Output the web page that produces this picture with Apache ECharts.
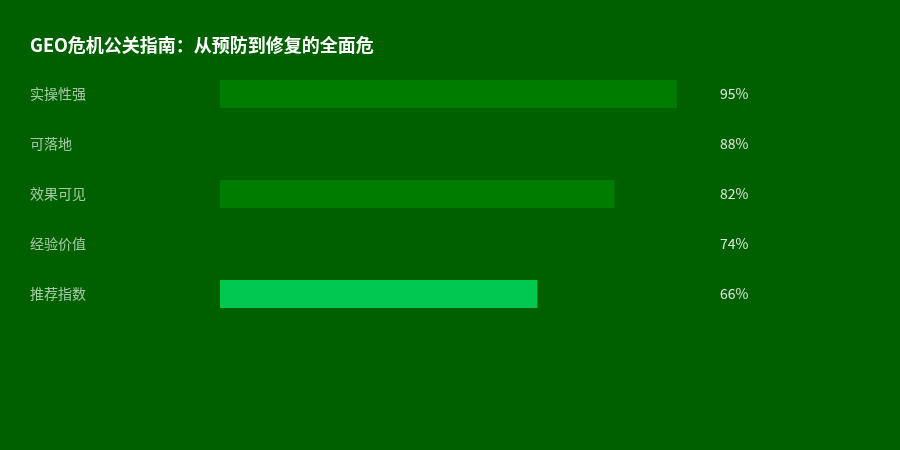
<!DOCTYPE html>
<html>
<head>
<meta charset="utf-8">
<script src="https://cdn.jsdelivr.net/npm/echarts@6/dist/echarts.min.js"></script>
<style>
  html, body { margin: 0; padding: 0; background: #006000; }
  #main { width: 900px; height: 450px; }
</style>
</head>
<body>
<div id="main"></div>
<script>
// 数据
var titleText = 'GEO危机公关指南：从预防到修复的全面危';
var cateList = ['实操性强', '可落地', '效果可见', '经验价值', '推荐指数'];
var valueList = [95, 88, 82, 74, 66];
var barColors = ['#007c00', '#006000', '#007c00', '#006000', '#00c850'];

var chart = echarts.init(document.getElementById('main'));

var option = {
  backgroundColor: '#006000',
  title: {
    text: titleText,
    left: 25,
    top: 31,
    textStyle: {
      color: '#ffffff',
      fontSize: 18,
      fontWeight: 'bold',
      fontFamily: 'Noto Sans CJK SC'
    }
  },
  grid: {
    left: 220,
    top: 69,
    width: 481,
    height: 250
  },
  xAxis: {
    type: 'value',
    min: 0,
    max: 100,
    show: false
  },
  yAxis: [{
    type: 'category',
    data: cateList,
    inverse: true,
    axisLine: { show: false },
    axisTick: { show: false },
    axisLabel: {
      align: 'left',
      margin: 190,
      color: 'rgba(255,255,255,0.65)',
      fontSize: 14,
      fontFamily: 'Noto Sans CJK SC'
    }
  }, {
    type: 'category',
    data: valueList,
    inverse: true,
    position: 'right',
    axisLine: { show: false },
    axisTick: { show: false },
    axisLabel: {
      align: 'left',
      margin: 19,
      color: 'rgba(255,255,255,0.85)',
      fontSize: 14,
      fontFamily: 'Noto Sans CJK SC',
      formatter: function (v) { return v + '%'; }
    }
  }],
  series: [{
    type: 'bar',
    barWidth: 28,
    silent: true,
    data: valueList.map(function (v, i) {
      return { value: v, itemStyle: { color: barColors[i] } };
    })
  }]
};

chart.setOption(option);
</script>
</body>
</html>
